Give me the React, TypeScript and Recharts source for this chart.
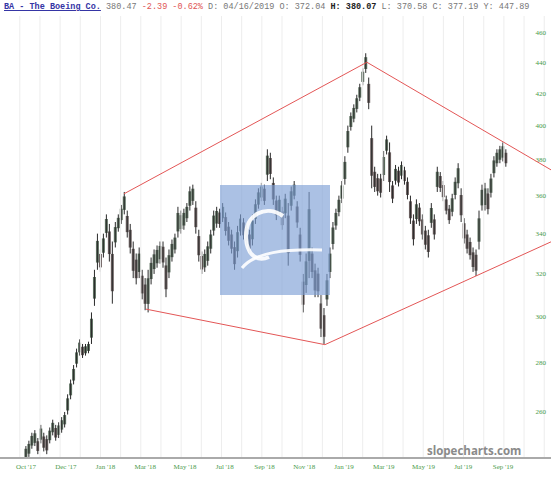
import React from 'react';
import { ComposedChart, Bar, Cell, XAxis, YAxis, ReferenceLine } from 'recharts';

// Each entry covers 3 trading days, starting early Oct 2017
const DAY_STEP = 3;
const lows = [
  242, 243, 246, 247, 244, 248, 245, 244, 248, 251,
  249, 250, 252, 254, 259, 265, 271, 278, 283, 282,
  283, 284, 288, 305, 322, 321, 328, 338, 326, 306,
  333, 341, 345, 350, 338, 330, 318, 315, 318, 308,
  303, 302, 315, 320, 323, 325, 323, 309, 318, 326,
  330, 338, 340, 342, 346, 352, 355, 340, 326, 320,
  321, 324, 330, 339, 343, 343, 346, 339, 334, 330,
  322, 328, 339, 337, 334, 330, 334, 345, 353, 357,
  355, 368, 369, 355, 347, 349, 342, 348, 324, 352,
  358, 343, 326, 302, 311, 318, 318, 309, 309, 291,
  288, 305, 318, 332, 342, 349, 356, 366, 384, 397,
  402, 408, 415, 425, 433, 410, 364, 362, 360, 359,
  368, 383, 362, 356, 366, 365, 369, 366, 358, 345,
  334, 345, 344, 337, 332, 328, 343, 337, 362, 362,
  357, 350, 345, 349, 358, 364, 346, 335, 330, 327,
  321, 319, 332, 352, 352, 350, 359, 370, 376, 378,
  379, 376,
];
const highs = [
  247, 249, 252, 253, 250, 255, 252, 251, 254, 257,
  255, 256, 258, 260, 267, 273, 279, 286, 290, 288,
  288, 289, 302, 322, 340, 332, 340, 350, 345, 336,
  346, 350, 355, 362, 352, 345, 336, 330, 333, 322,
  318, 322, 328, 332, 334, 336, 336, 328, 332, 337,
  340, 354, 352, 353, 356, 365, 366, 357, 342, 331,
  332, 336, 342, 352, 354, 353, 356, 351, 346, 342,
  336, 344, 350, 348, 345, 342, 350, 358, 364, 367,
  366, 386, 384, 370, 360, 360, 354, 361, 356, 365,
  368, 357, 343, 320, 330, 362, 333, 325, 323, 310,
  304, 320, 333, 346, 353, 360, 368, 382, 400, 408,
  413, 419, 426, 436, 446, 430, 400, 376, 372, 372,
  385, 394, 390, 368, 377, 376, 379, 376, 370, 360,
  350, 358, 356, 350, 344, 342, 356, 350, 376, 373,
  368, 360, 355, 361, 370, 378, 364, 348, 342, 338,
  333, 332, 352, 366, 367, 364, 372, 382, 386, 388,
  390, 386,
];

const tickDays = [0, 40, 80, 120, 160, 200, 240, 280, 320, 360, 400, 440, 480];
const tickLabels = [
  "Oct '17", "Dec '17", "Jan '18", "Mar '18", "May '18", "Jul '18", "Sep '18",
  "Nov '18", "Jan '19", "Mar '19", "May '19", "Jul '19", "Sep '19",
];
const priceTicks = [260, 280, 300, 320, 340, 360, 380, 400, 420, 440, 460];

// Trend lines: start point, anchor point, extend to the right edge or not
const trendLines = [
  { a: [98.6, 361], b: [343, 440], extend: false },
  { a: [343, 440], b: [484, 389], extend: true },
  { a: [120.7, 303.5], b: [300.8, 287.7], extend: false },
  { a: [300.8, 287.7], b: [455, 319.5], extend: true },
];

const headerTitle = 'BA - The Boeing Co.';
const headerLast = '380.47';
const headerChange = '-2.39 -0.62%';
const headerDate = 'D: 04/16/2019 O: 372.04';
const headerHigh = 'H: 380.07';
const headerRest = 'L: 370.58 C: 377.19 Y: 447.89';

const X_DOMAIN: [number, number] = [-26.2, 528.3];
const Y_DOMAIN: [number, number] = [242.6, 471.7];

const data = lows.map((l, i) => ({ day: i * DAY_STEP, range: [l, highs[i]] }));
const colors = data.map((d, i) => {
  if (i === 0) return '#5f6f60';
  const mid = (d.range[0] + d.range[1]) / 2;
  const prev = (data[i - 1].range[0] + data[i - 1].range[1]) / 2;
  return mid >= prev ? '#5f7262' : '#6e6262';
});

const gridDays: number[] = [];
for (let d = -6.3; d < X_DOMAIN[1]; d += 20.3) gridDays.push(d);

function logInterp(a: number[], b: number[], d: number) {
  const t = (d - a[0]) / (b[0] - a[0]);
  return Math.exp(Math.log(a[1]) + (Math.log(b[1]) - Math.log(a[1])) * t);
}

const segments = trendLines.map((tl) => {
  if (!tl.extend) return [{ x: tl.a[0], y: tl.a[1] }, { x: tl.b[0], y: tl.b[1] }];
  const end = X_DOMAIN[1];
  return [{ x: tl.a[0], y: tl.a[1] }, { x: end, y: logInterp(tl.a, tl.b, end) }];
});

const PriceLabel = (props: any) => {
  const vb = props.viewBox || {};
  return (
    <text
      x={vb.x + vb.width - 5}
      y={vb.y}
      dy={2.5}
      textAnchor="end"
      fill="#4a9a4a"
      fontSize={7}
      fontFamily="Liberation Serif"
    >
      {props.value}
    </text>
  );
};

// Draws an OHLC-style bar: a thin dark stem over a lighter body
const PriceBar = (props: any) => {
  const { x, y, width, height, fill } = props;
  if (height == null || isNaN(y)) return null;
  const h = Math.max(height, 1);
  const cx = x + width / 2;
  return (
    <g>
      <rect x={cx - 1.5} y={y + h * 0.2} width={3} height={h * 0.6} fill={fill} />
      <rect x={cx - 0.5} y={y} width={1} height={h} fill="#2b2b2b" />
    </g>
  );
};

export default function App() {
  return (
    <div style={{ position: 'absolute', left: 0, top: 0, width: 551, height: 480, background: '#fff' }}>
      <ComposedChart
        width={551}
        height={480}
        data={data}
        margin={{ top: 16, right: 0, left: 0, bottom: 0 }}
      >
        <XAxis
          dataKey="day"
          type="number"
          domain={X_DOMAIN}
          allowDataOverflow
          ticks={tickDays}
          tickFormatter={(v: number) => tickLabels[tickDays.indexOf(v)] ?? ''}
          tick={{ fill: '#4a9a4a', fontSize: 7, fontFamily: 'Liberation Serif' }}
          tickLine={false}
          tickSize={4}
          axisLine={{ stroke: '#aaaaaa', strokeWidth: 2 }}
          height={22}
        />
        <YAxis hide scale="log" domain={Y_DOMAIN} allowDataOverflow width={0} />
        {gridDays.map((d, i) => (
          <ReferenceLine key={'g' + i} x={d} stroke="#ededed" strokeWidth={1} ifOverflow="hidden" />
        ))}
        {priceTicks.map((v) => (
          <ReferenceLine
            key={'p' + v}
            y={v}
            stroke="none"
            label={<PriceLabel value={v} />}
          />
        ))}
        <Bar dataKey="range" barSize={3} isAnimationActive={false} shape={<PriceBar />}>
          {data.map((d, i) => (
            <Cell key={i} fill={colors[i]} />
          ))}
        </Bar>
        {segments.map((s, i) => (
          <ReferenceLine
            key={'t' + i}
            segment={s}
            stroke="#e35656"
            strokeWidth={1}
            ifOverflow="visible"
          />
        ))}
      </ComposedChart>
      <div
        style={{
          position: 'absolute',
          left: 4,
          top: 2,
          fontFamily: 'Liberation Mono',
          fontSize: 8.5,
          lineHeight: '10px',
          whiteSpace: 'pre',
          color: '#777',
        }}
      >
        <span style={{ color: '#3535a5', fontWeight: 'bold', textDecoration: 'underline' }}>{headerTitle}</span>
        {' ' + headerLast + ' '}
        <span style={{ color: '#e05555' }}>{headerChange}</span>
        {' ' + headerDate + ' '}
        <span style={{ color: '#222', fontWeight: 'bold' }}>{headerHigh}</span>
        {' ' + headerRest}
      </div>
      <svg width={551} height={480} style={{ position: 'absolute', left: 0, top: 0, pointerEvents: 'none' }}>
        <rect x={220} y={185} width={110} height={110} fill="#7e9fd6" fillOpacity={0.65} />
        <path d="M 283 216 C 266 204, 245 214, 246 238 C 247 256, 258 262, 269 257" stroke="#fff" strokeWidth={4} fill="none" opacity={0.9} />
        <path d="M 242 268 C 255 252, 285 249, 322 250" stroke="#fff" strokeWidth={3} fill="none" opacity={0.9} />
        <text x={427} y={455} fontFamily="Open Sans" fontWeight="bold" fontSize={11.5} fill="#8a8a8a">slopecharts.com</text>
      </svg>
    </div>
  );
}
